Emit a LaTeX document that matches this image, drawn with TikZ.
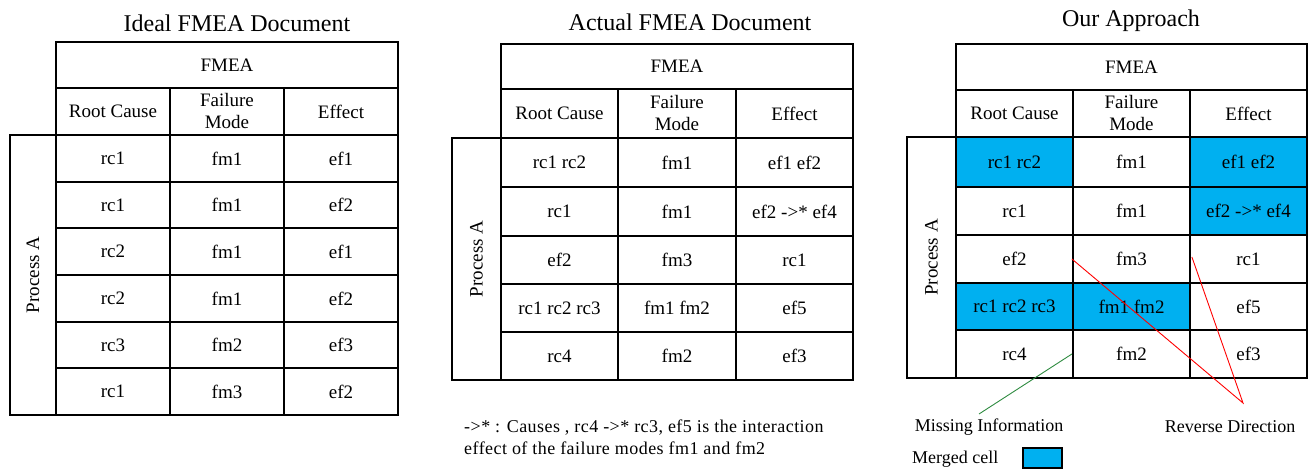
\documentclass[tikz,border=0pt]{standalone}
\usepackage{fontspec}
\setmainfont{Liberation Serif}
\newfontfamily\notefont[LetterSpace=2.5]{Liberation Serif}
\definecolor{fblue}{HTML}{00B0F0}
\definecolor{mgreen}{HTML}{2E8B40}
\tikzset{
  fcell/.style={draw=black,line width=2.2pt,inner sep=0pt,align=center,
    font=\fontsize{19}{22}\selectfont},
  bluecell/.style={fill=fblue},
  ttl/.style={font=\fontsize{24}{28}\selectfont,inner sep=0pt},
  lab/.style={font=\fontsize{18}{22}\selectfont,inner sep=0pt},
  notestyle/.style={font=\notefont\fontsize{18}{22}\selectfont,inner sep=0pt},
  redline/.style={draw=red,line width=0.9pt},
  greenline/.style={draw=mgreen,line width=0.9pt},
}
% #1 options, #2 name, #3 x1, #4 y1, #5 x2, #6 y2, #7 text
\newcommand\fcell[7][]{%
  \node[fcell,#1,minimum width={(#5-#3)*1pt},minimum height={(#6-#4)*1pt}]
    (#2) at ({(#3+#5)/2},{(#4+#6)/2}) {#7};}
% rotated process column
\newcommand\pcell[5]{%
  \node[fcell,rotate=90,minimum width={(#5-#3)*1pt},minimum height={(#4-#2)*1pt}]
    (#1) at ({(#2+#4)/2},{(#3+#5)/2}) {Process A};}
% a full body row: #1 prefix, #2 x1, #3 x2, #4 x3, #5 x4, #6 y1, #7 y2, #8 #9 texts
\newcommand\frow[9]{%
  \fcell{#1 1}{#2}{#6}{#3}{#7}{#8}%
  \fcell{#1 2}{#3}{#6}{#4}{#7}{#9}%
  \frowlast{#1}{#4}{#5}{#6}{#7}}
\newcommand\frowlast[6]{\fcell{#1 3}{#2}{#4}{#3}{#5}{#6}}
\begin{document}
\begin{tikzpicture}[x=1pt,y=-1pt]
\useasboundingbox (0,0) rectangle (1309,470);
% ---------------- Left table ----------------
\node[ttl] (T1) at (237,23) {Ideal FMEA Document};
\fcell{LF}{56}{42}{398}{88}{FMEA}
\fcell{LH1}{56}{88}{170}{135}{Root Cause}
\fcell{LH2}{170}{88}{284}{135}{Failure\\Mode}
\fcell{LH3}{284}{88}{398}{135}{Effect}
\pcell{LP}{10}{135}{56}{415}
\frow{L1}{56}{170}{284}{398}{135}{182}{rc1}{fm1}{ef1}
\frow{L2}{56}{170}{284}{398}{182}{228}{rc1}{fm1}{ef2}
\frow{L3}{56}{170}{284}{398}{228}{275}{rc2}{fm1}{ef1}
\frow{L4}{56}{170}{284}{398}{275}{322}{rc2}{fm1}{ef2}
\frow{L5}{56}{170}{284}{398}{322}{368}{rc3}{fm2}{ef3}
\frow{L6}{56}{170}{284}{398}{368}{415}{rc1}{fm3}{ef2}
% ---------------- Middle table ----------------
\node[ttl] (T2) at (690,22) {Actual FMEA Document};
\fcell{MF}{501}{44}{853}{89}{FMEA}
\fcell{MH1}{501}{89}{618}{138}{Root Cause}
\fcell{MH2}{618}{89}{736}{138}{Failure\\Mode}
\fcell{MH3}{736}{89}{853}{138}{Effect}
\pcell{MP}{452}{138}{501}{380}
\fcell{M11}{501}{138}{618}{187}{rc1 rc2}
\fcell{M12}{618}{138}{736}{187}{fm1}
\fcell{M13}{736}{138}{853}{187}{ef1 ef2}
\fcell{M21}{501}{187}{618}{236}{rc1}
\fcell{M22}{618}{187}{736}{236}{fm1}
\fcell{M23}{736}{187}{853}{236}{ef2 ->* ef4}
\fcell{M31}{501}{236}{618}{284}{ef2}
\fcell{M32}{618}{236}{736}{284}{fm3}
\fcell{M33}{736}{236}{853}{284}{rc1}
\fcell{M41}{501}{284}{618}{332}{rc1 rc2 rc3}
\fcell{M42}{618}{284}{736}{332}{fm1 fm2}
\fcell{M43}{736}{284}{853}{332}{ef5}
\fcell{M51}{501}{332}{618}{380}{rc4}
\fcell{M52}{618}{332}{736}{380}{fm2}
\fcell{M53}{736}{332}{853}{380}{ef3}
\node[notestyle,anchor=west,align=left] (NOTE) at (464,437)
  {->* : Causes , rc4 ->* rc3, ef5 is the interaction\\effect of the failure modes fm1 and fm2};
% ---------------- Right table ----------------
\node[ttl] (T3) at (1131,21) {Our Approach};
\fcell[bluecell]{R11}{956}{137}{1073}{187}{rc1 rc2}
\fcell[bluecell]{R13}{1190}{137}{1307}{187}{ef1 ef2}
\fcell[bluecell]{R23}{1190}{187}{1307}{235}{ef2 ->* ef4}
\fcell[bluecell]{R41}{956}{283}{1073}{330}{rc1 rc2 rc3}
\fcell[bluecell]{R42}{1073}{283}{1190}{330}{fm1 fm2}
\fcell{RF}{956}{44}{1307}{90}{FMEA}
\fcell{RH1}{956}{90}{1073}{137}{Root Cause}
\fcell{RH2}{1073}{90}{1190}{137}{Failure\\Mode}
\fcell{RH3}{1190}{90}{1307}{137}{Effect}
\pcell{RP}{907}{137}{956}{378}
\fcell{R12}{1073}{137}{1190}{187}{fm1}
\fcell{R21}{956}{187}{1073}{235}{rc1}
\fcell{R22}{1073}{187}{1190}{235}{fm1}
\fcell{R31}{956}{235}{1073}{283}{ef2}
\fcell{R32}{1073}{235}{1190}{283}{fm3}
\fcell{R33}{1190}{235}{1307}{283}{rc1}
\fcell{R43}{1190}{283}{1307}{330}{ef5}
\fcell{R51}{956}{330}{1073}{378}{rc4}
\fcell{R52}{1073}{330}{1190}{378}{fm2}
\fcell{R53}{1190}{330}{1307}{378}{ef3}
% annotations
\coordinate (RD) at (1243,403);
\coordinate (MI) at (979,414);
\draw[redline] (R32.west) -- (RD) -- ([xshift=3pt,yshift=2pt]R33.west);
\draw[greenline] (R52.west) -- (MI);
\node[lab] (LMI) at (989,427) {Missing Information};
\node[lab] (LRD) at (1230,427) {Reverse Direction};
\node[lab,anchor=west] (LMC) at (912,459) {Merged cell};
\node[draw=black,fill=fblue,line width=2.2pt,inner sep=0pt,
  minimum width=39pt,minimum height=20pt] (MC) at (1042.5,458) {};
\end{tikzpicture}
\end{document}
